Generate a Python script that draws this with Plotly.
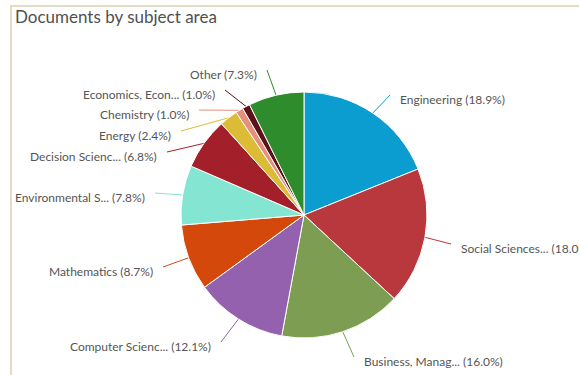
import math
import plotly.graph_objects as go

# Subject areas, clockwise from 12 o'clock
subjects = [
    "Engineering", "Social Sciences...", "Business, Manag...", "Computer Scienc...",
    "Mathematics", "Environmental S...", "Decision Scienc...", "Energy",
    "Chemistry", "Economics, Econ...", "Other",
]
shares = [18.9, 18.0, 16.0, 12.1, 8.7, 7.8, 6.8, 2.4, 1.0, 1.0, 7.3]
colors = [
    "#0b9dd0", "#b9383e", "#7d9e52", "#9361ad", "#d4490b", "#84e5d3",
    "#a31f2a", "#dcbb37", "#e4907d", "#5c1219", "#2f8c2c",
]

W, H = 579, 375
CX, CY, R = 304, 215, 123

# Label anchor (px) and which side of the anchor the text sits on
label_pos = [
    (398, 99, "left"), (459, 248, "left"), (362, 361, "left"),
    (213, 346, "right"), (155, 271, "right"), (147, 197, "right"),
    (159, 156, "right"), (173, 135, "right"), (191, 114, "right"),
    (217, 94, "right"), (259, 74, "right"),
]

fig = go.Figure()

fig.add_trace(go.Pie(
    values=shares,
    labels=subjects,
    sort=False,
    direction="clockwise",
    rotation=0,
    textinfo="none",
    hoverinfo="label+percent",
    marker=dict(colors=colors, line=dict(color="#ffffff", width=1)),
    domain=dict(x=[(CX - R) / W, (CX + R) / W],
                y=[(H - CY - R) / H, (H - CY + R) / H]),
    showlegend=False,
))

total = sum(shares)
cum = 0.0
annotations = []
for name, v, col, (lx, ly, side) in zip(subjects, shares, colors, label_pos):
    mid = (cum + v / 2) / total * 2 * math.pi
    cum += v
    ex = CX + R * math.sin(mid)
    ey = CY - R * math.cos(mid)
    tx = lx - 8 if side == "left" else lx + 8
    ty = ly - 4
    fig.add_trace(go.Scatter(
        x=[ex, tx], y=[ey, ty], mode="lines",
        line=dict(color=col, width=1), hoverinfo="skip", showlegend=False,
    ))
    annotations.append(dict(
        x=lx, y=ly, xref="x", yref="y", showarrow=False,
        text=f"{name} ({v:.1f}%)",
        xanchor=side, yanchor="middle",
        font=dict(family="Lato", size=12, color="#555555"),
    ))

annotations.append(dict(
    x=13, y=16, xref="x", yref="y", showarrow=False,
    text="Documents by subject area", xanchor="left", yanchor="middle",
    font=dict(family="Lato", size=17, color="#505050"),
))

fig.update_layout(
    width=W, height=H,
    margin=dict(l=0, r=0, t=0, b=0),
    paper_bgcolor="#ffffff", plot_bgcolor="rgba(0,0,0,0)",
    xaxis=dict(range=[0, W], visible=False, fixedrange=True),
    yaxis=dict(range=[H, 0], visible=False, fixedrange=True),
    annotations=annotations,
    shapes=[
        dict(type="line", xref="x", yref="y", x0=10, x1=W, y0=6, y1=6,
             line=dict(color="#e2dcc5", width=2)),
        dict(type="line", xref="x", yref="y", x0=11, x1=11, y0=5, y1=H,
             line=dict(color="#e2dcc5", width=2)),
    ],
)

fig.write_html("out.html")
